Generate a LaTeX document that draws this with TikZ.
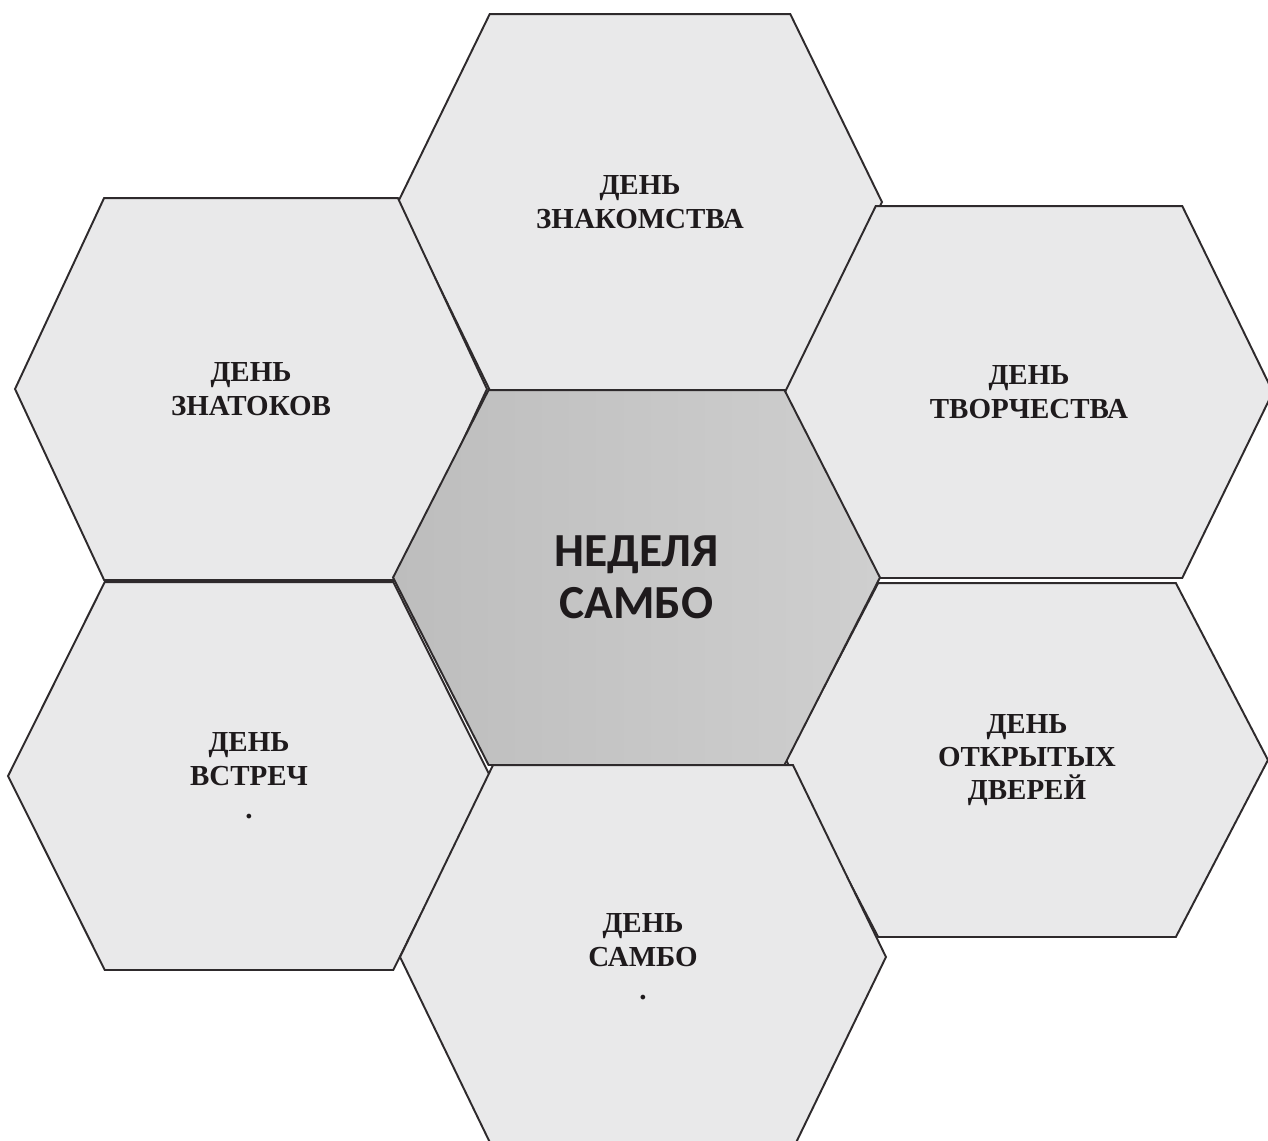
\documentclass[tikz,border=0pt]{standalone}
\usepackage{fontspec}
\setmainfont{Liberation Serif}
\newfontfamily\hubfont{Carlito}
\usetikzlibrary{shapes.symbols}
\definecolor{hxink}{HTML}{1E1A1C}
\definecolor{hxline}{HTML}{2E2A2C}
\definecolor{hxpanel}{HTML}{E9E9EA}
\definecolor{hxhubL}{HTML}{BDBDBD}
\definecolor{hxhubR}{HTML}{CFCFCF}
\tikzset{
  cell/.style={signal,signal to=west and east,signal pointer angle=126,
               draw=hxline,line width=1.1pt,fill=hxpanel,inner sep=0pt,
               minimum width=9.74cm,minimum height=7.52cm,align=center,
               font=\fontsize{16.5}{19}\selectfont\bfseries,text=hxink},
  hub/.style={cell,left color=hxhubL,right color=hxhubR,
              font=\fontsize{27}{29.5}\selectfont\hubfont\bfseries},
}
\begin{document}
\begin{tikzpicture}[x=0.02cm,y=-0.02cm]
  \useasboundingbox (0,0) rectangle (1268,1140);
  \clip (0,0) rectangle (1268,1140);
  \fill[white] (0,0) rectangle (1268,1140);
  % outer ring of days
  \node[cell,minimum width=9.68cm,signal pointer angle=128] (acq) at (640,202) {ДЕНЬ\\ЗНАКОМСТВА};
  \node[cell,minimum width=9.44cm,minimum height=7.64cm,signal pointer angle=130] (experts) at (251,389) {ДЕНЬ\\ЗНАТОКОВ};
  \node[cell,minimum width=9.76cm,minimum height=7.44cm,signal pointer angle=128] (creative) at (1029,392) {ДЕНЬ\\ТВОРЧЕСТВА};
  \node[cell,minimum width=9.64cm,minimum height=7.76cm,signal pointer angle=127] (meet) at (249,776) {ДЕНЬ\\ВСТРЕЧ\\.};
  \node[cell,minimum width=9.64cm,minimum height=7.08cm,signal pointer angle=125] (opendoor) at (1027,760) {ДЕНЬ\\ОТКРЫТЫХ\\ДВЕРЕЙ};
  \node[cell,minimum width=9.72cm,minimum height=7.68cm,signal pointer angle=128.3] (sambo) at (643,957) {ДЕНЬ\\САМБО\\.};
  % centre
  \node[hub,minimum height=7.5cm] (week) at (636.5,577.5) {НЕДЕЛЯ\\САМБО};
\end{tikzpicture}
\end{document}
